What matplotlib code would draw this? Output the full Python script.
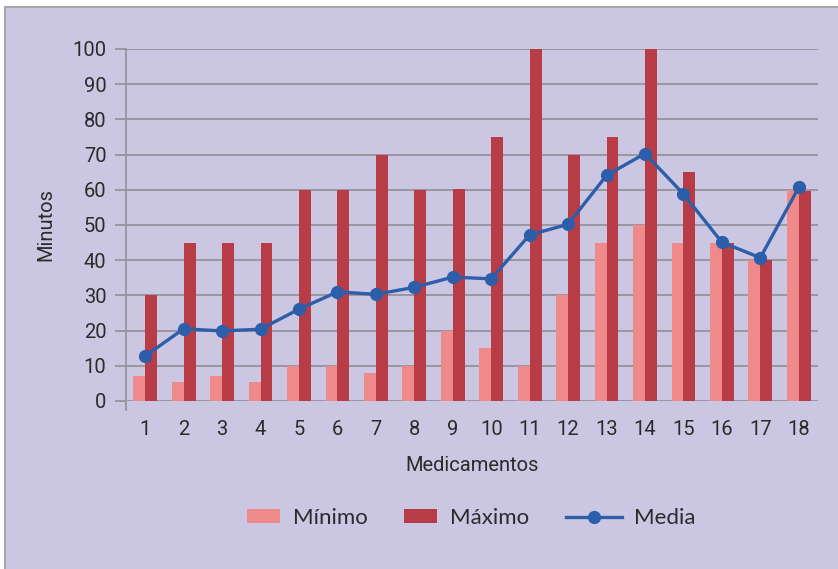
import numpy as np
import matplotlib.pyplot as plt
from matplotlib.patches import Rectangle, Patch
from matplotlib.lines import Line2D

plt.rcParams['font.family'] = ['Roboto', 'DejaVu Sans']

medicamentos = list(range(1, 19))
minimo = [7, 5.5, 7, 5.5, 10, 10, 8, 10, 20, 15, 10, 30, 45, 50, 45, 45, 40, 60]
maximo = [30, 45, 45, 45, 60, 60, 70, 60, 60.3, 75, 100, 70, 75, 100, 65, 45, 40, 59.8]
media = [12.8, 20.5, 19.9, 20.4, 26.1, 31.0, 30.3, 32.3, 35.2, 34.7,
         47.2, 50.2, 64.1, 70.3, 58.8, 45.1, 40.7, 60.7]

bg = '#cbc7e3'
grid_c = '#96929c'
text_c = '#2b2b2b'
c_min = '#ef8a8b'
c_max = '#b83c45'
c_med = '#2c5eaa'

fig = plt.figure(figsize=(8.38, 5.69), dpi=100, facecolor='white')

# lavender panel with a gray frame on the top and left
back = fig.add_axes([0, 0, 1, 1], zorder=-1)
back.set_xlim(0, 838)
back.set_ylim(569, 0)
back.axis('off')
back.add_patch(Rectangle((5, 7), 900, 600, facecolor=bg,
                         edgecolor='#a8a8a8', linewidth=1.5))

ax = fig.add_axes([126 / 838, 1 - 401 / 569, (818 - 126) / 838, (401 - 49) / 569])
ax.patch.set_alpha(0)

x = np.array(medicamentos)
w = 0.31
ax.bar(x - w / 2, minimo, width=w, color=c_min, zorder=2)
ax.bar(x + w / 2, maximo, width=w, color=c_max, zorder=2)
ax.plot(x, media, color=c_med, linewidth=2.4, marker='o', markersize=8.5, zorder=3)

ax.set_xlim(0.5, 18.5)
ax.set_ylim(0, 100)
ax.set_yticks(np.arange(0, 101, 10))
ax.set_xticks(x)
ax.yaxis.grid(True, color=grid_c, linewidth=1.3, zorder=1)
ax.set_axisbelow(True)

for s in ['top', 'right', 'bottom']:
    ax.spines[s].set_visible(False)
ax.spines['left'].set_color(grid_c)
ax.spines['left'].set_linewidth(1.3)
ax.spines['left'].set_bounds(-2.5, 100)
ax.spines['left'].set_clip_on(False)
ax.tick_params(axis='y', length=8, width=1.3, color=grid_c, labelsize=14.5,
               labelcolor=text_c, pad=6)
ax.tick_params(axis='x', length=0, labelsize=14.5, labelcolor=text_c, pad=14)

ax.set_ylabel('Minutos', fontsize=14.5, color=text_c, labelpad=12)
ax.set_xlabel('Medicamentos', fontsize=14.5, color=text_c, labelpad=12)

# one legend per entry so each key sits where it should
entries = [
    (Patch(facecolor=c_min), 'Mínimo', 247, 1.5),
    (Patch(facecolor=c_max), 'Máximo', 404, 1.5),
    (Line2D([], [], color=c_med, linewidth=2.4, marker='o', markersize=8.5), 'Media', 566, 2.5),
]
for handle, label, xpix, hl in entries:
    leg = fig.legend([handle], [label], loc='center left',
                     bbox_to_anchor=(xpix / 838, 1 - 518 / 569),
                     frameon=False, borderpad=0, borderaxespad=0,
                     handlelength=hl, handleheight=0.6, handletextpad=0.55,
                     prop={'family': ['Lato', 'DejaVu Sans'], 'size': 16})
    for t in leg.get_texts():
        t.set_color(text_c)

fig.savefig('out.png', dpi=100, facecolor='white')
